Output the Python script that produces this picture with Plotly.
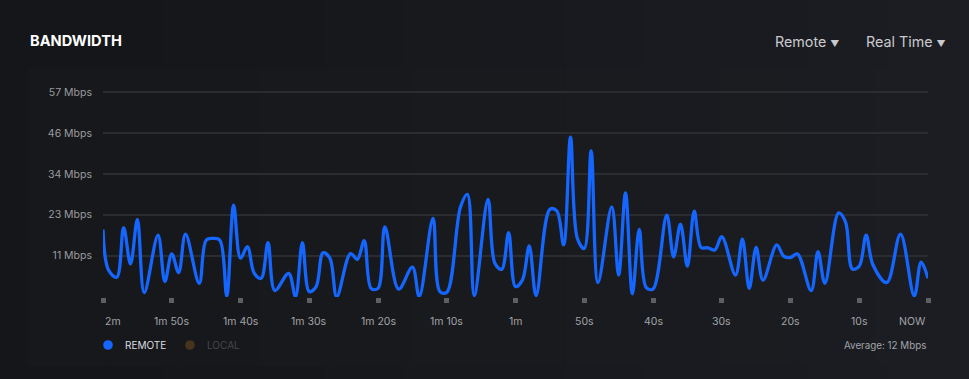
import plotly.graph_objects as go

# ---- data -------------------------------------------------------------
time_s = [-120, -119.2, -118, -117, -116, -115, -114, -112, -111, -110, -109, -108,
          -106, -105, -104, -103, -102, -101, -100, -99, -98, -97, -96, -95, -93, -92,
          -91, -90, -89, -88, -87, -86, -84, -83, -82, -81, -80, -79, -77, -75, -74,
          -72, -71, -70, -68, -67, -66, -64, -63, -62, -61, -60, -59, -58, -57, -55,
          -54, -53, -52, -51, -50, -49, -48, -46, -45, -44, -43, -42, -41, -40, -38,
          -37, -36, -35, -34, -33, -32, -31, -30, -28, -27, -26, -25, -24, -22, -21,
          -20, -19, -17, -16, -15, -13, -12, -11, -10, -9, -8, -6, -4, -2, -1, 0]
remote_mbps = [18.7, 7.4, 5.4, 19.2, 9.1, 21.5, 1.1, 17.1, 4.2, 11.9, 6.7, 17.4,
               3.7, 15.7, 16.2, 15.7, 0.2, 25.5, 10.7, 13.9, 6.5, 5.1, 15.0, 1.7, 6.5, 0.0,
               15.0, 1.4, 2.8, 12.2, 10.7, 0.0, 12.0, 10.4, 15.6, 2.3, 2.3, 19.4, 2.1, 8.2, 0.0,
               21.8, 1.4, 1.2, 25.0, 28.5, 0.3, 27.1, 9.3, 7.6, 17.8, 2.8, 4.6, 14.1, 0.3, 24.3,
               23.9, 14.4, 44.4, 16.2, 13.4, 40.6, 3.9, 25.0, 6.0, 28.9, 0.75, 18.7, 2.6, 2.1, 22.7,
               11.1, 20.2, 8.5, 23.8, 13.7, 13.6, 13.0, 16.7, 6.0, 16.0, 2.3, 13.7, 4.6, 14.4, 11.3,
               10.9, 11.9, 1.7, 12.5, 3.7, 23.3, 20.8, 7.7, 8.5, 17.1, 8.8, 3.9, 17.4, 0.2, 9.6, 5.1]

y_tick_vals = [0, 11.4, 22.8, 34.2, 45.6, 57]
y_tick_text = ["", "11 Mbps", "23 Mbps", "34 Mbps", "46 Mbps", "57 Mbps"]

x_tick_vals = [-120, -110, -100, -90, -80, -70, -60, -50, -40, -30, -20, -10, 0]
x_tick_text = ["2m", "1m 50s", "1m 40s", "1m 30s", "1m 20s", "1m 10s", "1m",
               "50s", "40s", "30s", "20s", "10s", "NOW"]

average_mbps = 12
legend_names = ["REMOTE", "LOCAL"]

# ---- geometry ---------------------------------------------------------
W, H = 969, 379
L, R, T, B = 103, 41, 88, 82
PW, PH = W - L - R, H - T - B

def px(xp):
    return (xp - L) / PW

def py(yp):
    return (H - B - yp) / PH

FONT = "Inter, Roboto, sans-serif"
BLUE = "#1466ff"

fig = go.Figure()
fig.add_trace(go.Scatter(
    x=time_s, y=remote_mbps, mode="lines",
    line=dict(color=BLUE, width=3.3, shape="spline", smoothing=1.0),
    hoverinfo="skip", showlegend=False,
))

shapes = []
# page background strips (soft horizontal gradient)
n = 12
for i in range(n):
    f = i / (n - 1)
    r = int(21 + 6 * f); g = int(22 + 7 * f); b = int(25 + 10 * f)
    shapes.append(dict(type="rect", xref="paper", yref="paper", layer="below",
                       x0=px(i * W / n), x1=px((i + 1) * W / n + 1), y0=py(H), y1=py(0),
                       line=dict(width=0), fillcolor=f"rgb({r},{g},{b})"))
# panel
for i in range(n):
    f = i / (n - 1)
    x0p = 28 + i * (950 - 28) / n
    x1p = 28 + (i + 1) * (950 - 28) / n + 0.5
    r = int(23 + 4 * f); g = int(24 + 5 * f); b = int(27 + 7 * f)
    shapes.append(dict(type="rect", xref="paper", yref="paper", layer="below",
                       x0=px(x0p), x1=px(min(x1p, 950)), y0=py(366), y1=py(69),
                       line=dict(width=0), fillcolor=f"rgb({r},{g},{b})"))

# legend dots
shapes.append(dict(type="circle", xref="paper", yref="paper", xsizemode="pixel", ysizemode="pixel",
                   xanchor=px(108), yanchor=py(345), x0=-4.8, x1=4.8, y0=-4.8, y1=4.8,
                   fillcolor=BLUE, line=dict(width=0)))
shapes.append(dict(type="circle", xref="paper", yref="paper", xsizemode="pixel", ysizemode="pixel",
                   xanchor=px(190), yanchor=py(345), x0=-4.8, x1=4.8, y0=-4.8, y1=4.8,
                   fillcolor="#46341f", line=dict(width=0)))

annotations = []
# title and dropdowns
annotations.append(dict(text="<b>BANDWIDTH</b>", xref="paper", yref="paper", x=px(28), y=py(41),
                        xanchor="left", yanchor="middle", showarrow=False,
                        font=dict(family=FONT, size=14.6, color="#ffffff")))
annotations.append(dict(text="Remote <span style='font-size:9px'>▼</span>", xref="paper", yref="paper",
                        x=px(841), y=py(41), xanchor="right", yanchor="middle", showarrow=False,
                        font=dict(family=FONT, size=14.3, color="#c9cacd")))
annotations.append(dict(text="Real Time <span style='font-size:9px'>▼</span>", xref="paper", yref="paper",
                        x=px(948), y=py(41), xanchor="right", yanchor="middle", showarrow=False,
                        font=dict(family=FONT, size=14.3, color="#c9cacd")))
# x tick labels
for i, (v, t) in enumerate(zip(x_tick_vals, x_tick_text)):
    anchor = "left" if i == 0 else ("right" if i == len(x_tick_vals) - 1 else "center")
    annotations.append(dict(text=t, xref="x", yref="paper", x=v, y=py(321),
                            xanchor=anchor, yanchor="middle", showarrow=False,
                            font=dict(family=FONT, size=10.5, color="#a2a3a7")))
# legend labels
annotations.append(dict(text=legend_names[0], xref="paper", yref="paper", x=px(123), y=py(345),
                        xanchor="left", yanchor="middle", showarrow=False,
                        font=dict(family=FONT, size=10, color="#dcdde0")))
annotations.append(dict(text=legend_names[1], xref="paper", yref="paper", x=px(205), y=py(345),
                        xanchor="left", yanchor="middle", showarrow=False,
                        font=dict(family=FONT, size=10, color="#46474b")))
annotations.append(dict(text=f"Average: {average_mbps} Mbps", xref="paper", yref="paper",
                        x=px(928), y=py(345), xanchor="right", yanchor="middle", showarrow=False,
                        font=dict(family=FONT, size=9.8, color="#a2a3a7")))

fig.update_layout(
    width=W, height=H, autosize=False,
    margin=dict(l=L, r=R, t=T, b=B, pad=0),
    paper_bgcolor="#17181b", plot_bgcolor="rgba(0,0,0,0)",
    font=dict(family=FONT, color="#9a9b9f"),
    shapes=shapes, annotations=annotations,
    xaxis=dict(range=[-120, 0], tickvals=x_tick_vals, ticktext=[""] * len(x_tick_vals),
               showgrid=False, zeroline=False, showline=False,
               ticks="outside", ticklen=5, tickwidth=5, tickcolor="#5e5f63",
               fixedrange=True),
    yaxis=dict(range=[-0.1, 58.1], tickvals=y_tick_vals, ticktext=y_tick_text,
               showgrid=True, gridcolor="#2b2c30", gridwidth=1.5, zeroline=False,
               showline=False, ticks="", ticklabelstandoff=10,
               tickfont=dict(family=FONT, size=10.5, color="#9a9b9f"),
               fixedrange=True),
    hovermode=False,
)

fig.write_html("out.html", config={"displayModeBar": False},
               post_script="document.body.style.margin='0px';document.body.style.overflow='hidden';document.body.style.background='#17181b';")
